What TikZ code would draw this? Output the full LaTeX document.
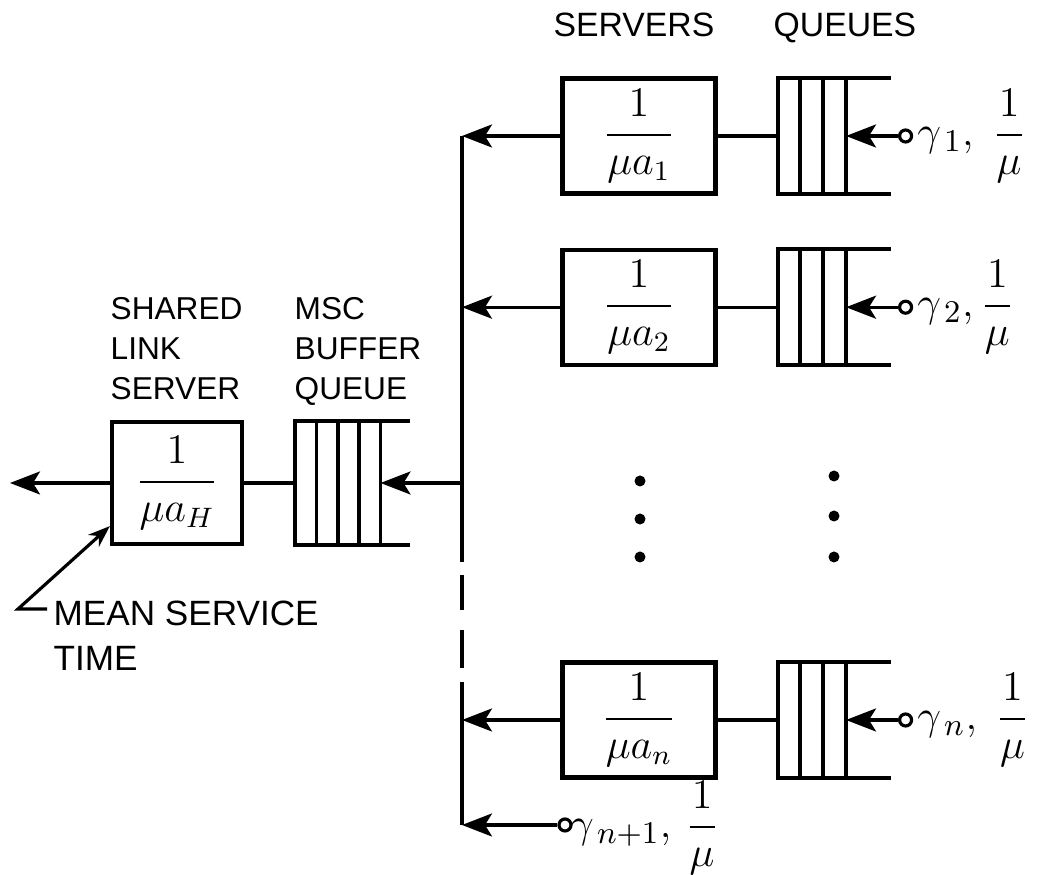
\documentclass[tikz,border=0pt]{standalone}
\usepackage{amsmath}
\usepackage{fontspec}
\setmainfont{Liberation Sans}
\usetikzlibrary{arrows.meta, positioning, calc}

\begin{document}
\begin{tikzpicture}[x=0.1mm, y=-0.1mm,
      node distance=5.2mm and 6mm,
      srv/.style={rectangle, draw, line width=1.2pt, minimum width=15.3mm,
                  minimum height=11.5mm, inner sep=0pt,
                  font=\fontsize{12}{14}\selectfont},
      que/.style={rectangle, inner sep=0pt, minimum width=6.7mm,
                  minimum height=11.5mm},
      src/.style={circle, draw, line width=0.9pt, minimum size=1.2mm, inner sep=0pt},
      lbl/.style={inner sep=1pt, font=\fontsize{12.5}{14}\selectfont},
      title/.style={inner sep=0pt, align=left, font=\fontsize{9}{11.4}\selectfont},
      ln/.style={line width=0.9pt},
      qln/.style={line width=1.1pt},
      arr/.style={-{Stealth[length=3mm, width=2.3mm, inset=0.7mm]}, line width=0.9pt}
    ]
    \useasboundingbox (0,0) rectangle (1040,875);

    % Headings
    \node[title, font=\fontsize{9.6}{11}\selectfont, anchor=base west] (hsrv) at (553,37) {SERVERS};
    \node[title, font=\fontsize{9.6}{11}\selectfont, anchor=base west] (hque) at (773,37) {QUEUES};
    \node[title, anchor=north west] (hlink) at (110,297) {SHARED\\LINK\\SERVER};
    \node[title, anchor=north west] (hbuf) at (294,297) {MSC\\BUFFER\\QUEUE};

    % Per-source servers and queues
    \node[srv] (srv1) at (639,136) {$\dfrac{1}{\mu a_1}$};
    \node[srv, below=of srv1] (srv2) {$\dfrac{1}{\mu a_2}$};
    \node[srv] (srvn) at (639,720) {$\dfrac{1}{\mu a_n}$};
    \node[que, right=of srv1] (q1) {};
    \node[que, right=of srv2] (q2) {};
    \node[que, right=of srvn] (qn) {};

    % Sources
    \node[src, right=5.2mm of q1] (in1) {};
    \node[src, right=5.2mm of q2] (in2) {};
    \node[src, right=5.2mm of qn] (inn) {};
    \node[src] (innn) at (565,825) {};
    \node[lbl, right=0pt of in1] (g1) {$\gamma_{\,1},\;\dfrac{1}{\mu}$};
    \node[lbl, right=0pt of in2] (g2) {$\gamma_{\,2},\dfrac{1}{\mu}$};
    \node[lbl, right=0pt of inn] (gn) {$\gamma_{\,n},\;\dfrac{1}{\mu}$};
    \node[lbl, anchor=west] (gnn) at (566,828) {$\gamma_{\,n+1},\,\dfrac{1}{\mu}$};

    % Shared link
    \node[srv, minimum width=13mm, minimum height=12.2mm] (link) at (177,483) {$\dfrac{1}{\mu a_H}$};
    \node[que, right=5.1mm of link, minimum width=8.4mm, minimum height=12.2mm] (buf) {};
    \coordinate (out) at (10,483);

    % Mean service time
    \node[title, font=\fontsize{10}{12.8}\selectfont, anchor=north west] (mean) at (53,600) {MEAN SERVICE\\TIME};
    \coordinate (leadend) at (47,609);
    \coordinate (lead) at (18,609);

    % Queue cells
    \foreach \q/\k/\ext in {q1/3/113, q2/3/113, qn/3/113, buf/4/115} {
      \draw[qln] ($(\q.north west)+(\ext,0)$) -- (\q.north west) -- (\q.south west)
        -- ($(\q.south west)+(\ext,0)$);
      \foreach \i in {1,...,\k}
        \draw[qln] ($(\q.north west)!\i/\k!(\q.north east)$)
          -- ($(\q.south west)!\i/\k!(\q.south east)$);
    }

    % Bus (broken between the second row and row n)
    \coordinate (bustop) at (462,136);
    \coordinate (busgap) at (462,562);
    \coordinate (busback) at (462,682);
    \coordinate (busbot) at (462,825);
    \draw[ln] (bustop) -- (busgap);
    \foreach \a/\b in {575/610, 630/668}
      \draw[ln] (462,\a) -- (462,\b);
    \draw[ln] (busback) -- (busbot);

    % Dots
    \foreach \y in {481,519,557}
      \fill (640,\y) circle[radius=0.55mm];
    \foreach \y in {476,516,557}
      \fill (834,\y) circle[radius=0.55mm];

    % Connectors
    \foreach \r in {1,2,n} {
      \draw[ln] (srv\r) -- (q\r);
      \draw[arr] (in\r) -- (q\r);
      \draw[arr] (srv\r) -- (srv\r -| bustop);
    }
    \draw[arr] (innn) -- (innn -| bustop);
    \draw[arr] (buf -| bustop) -- (buf);
    \draw[ln] (buf) -- (link);
    \draw[arr] (link) -- (out);
    \draw[ln, -{Stealth[length=2.2mm, width=1.6mm]}] (leadend) -- (lead)
      -- ([yshift=2mm]link.south west);
  \end{tikzpicture}
\end{document}
